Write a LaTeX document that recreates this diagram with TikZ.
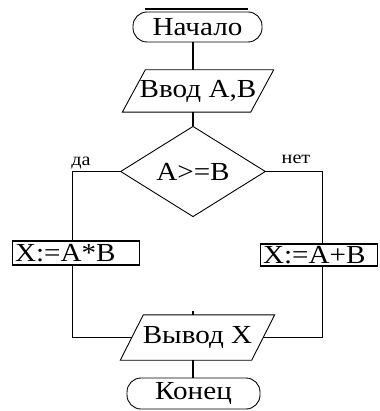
\documentclass[tikz,border=0pt]{standalone}
\usepackage{fontspec}
\setmainfont{Liberation Serif}[FakeStretch=1.12]
\usetikzlibrary{shapes.geometric}
\tikzset{
  base/.style={draw=black, line width=0.9pt, inner sep=0pt, font=\fontsize{26}{28}\selectfont},
  term/.style={base, rectangle, rounded corners=14pt},
  iotext/.style={inner sep=0pt, font=\fontsize{26}{28}\selectfont},
  proc/.style={base, rectangle, line width=1.2pt},
  cond/.style={base, diamond},
  line/.style={line width=1.1pt},
  para/.style={line width=0.9pt, line join=miter},
  lbl/.style={inner sep=0pt, font=\fontsize{18}{19}\selectfont}
}
\begin{document}
\begin{tikzpicture}[x=1pt, y=-1pt]
\useasboundingbox (0,0) rectangle (379,411);
\node[term, minimum width=129pt, minimum height=30pt] (start) at (197.5,27) {Начало};
\coordinate (topa) at (145,9);
\coordinate (topb) at (248,9);
\draw[line] (topa) -- (topb);
\node[iotext, minimum width=128pt, minimum height=42pt] (in) at (198,91) {Ввод A,B};
\draw[para] ([xshift=-11.5pt]in.south west) -- ([xshift=11.5pt]in.north west) -- ([xshift=11.5pt]in.north east) -- ([xshift=-11.5pt]in.south east) -- cycle;
\node[cond, minimum width=145pt, minimum height=77pt] (dec) at (193,171.5) {A>=B};
\node[proc, minimum width=127pt, minimum height=24pt, anchor=west, text width=122pt, align=left] (bl) at (12,253) {X:=A*B};
\node[proc, minimum width=117pt, minimum height=22pt, anchor=west, text width=112pt, align=left] (br) at (260,255) {X:=A+B};
\node[iotext, minimum width=131pt, minimum height=45pt] (out) at (197.5,337.5) {Вывод X};
\draw[para] ([xshift=-11.5pt]out.south west) -- ([xshift=11.5pt]out.north west) -- ([xshift=11.5pt]out.north east) -- ([xshift=-11.5pt]out.south east) -- cycle;
\node[term, minimum width=133pt, minimum height=31pt] (end) at (193.5,393.5) {Конец};
\node[lbl] (yes) at (81,163) {да};
\node[lbl] (no) at (296,159) {нет};
\draw[line] (dec.north |- start.south) -- (dec.north |- in.north);
\draw[line] (dec.north |- in.south) -- (dec.north);
\draw[line] (dec.west) -| ([xshift=-3.5pt]bl.north);
\draw[line] (dec.east) -| ([xshift=3.5pt]br.north);
\draw[line] ([xshift=-3.5pt]bl.south) |- (out.west);
\draw[line] ([xshift=3.5pt]br.south) |- (out.east);
\draw[line] (dec.south |- out.north) -- ++(0,-4);
\draw[line] (dec.south |- out.south) -- (dec.south |- end.north);
\end{tikzpicture}
\end{document}
